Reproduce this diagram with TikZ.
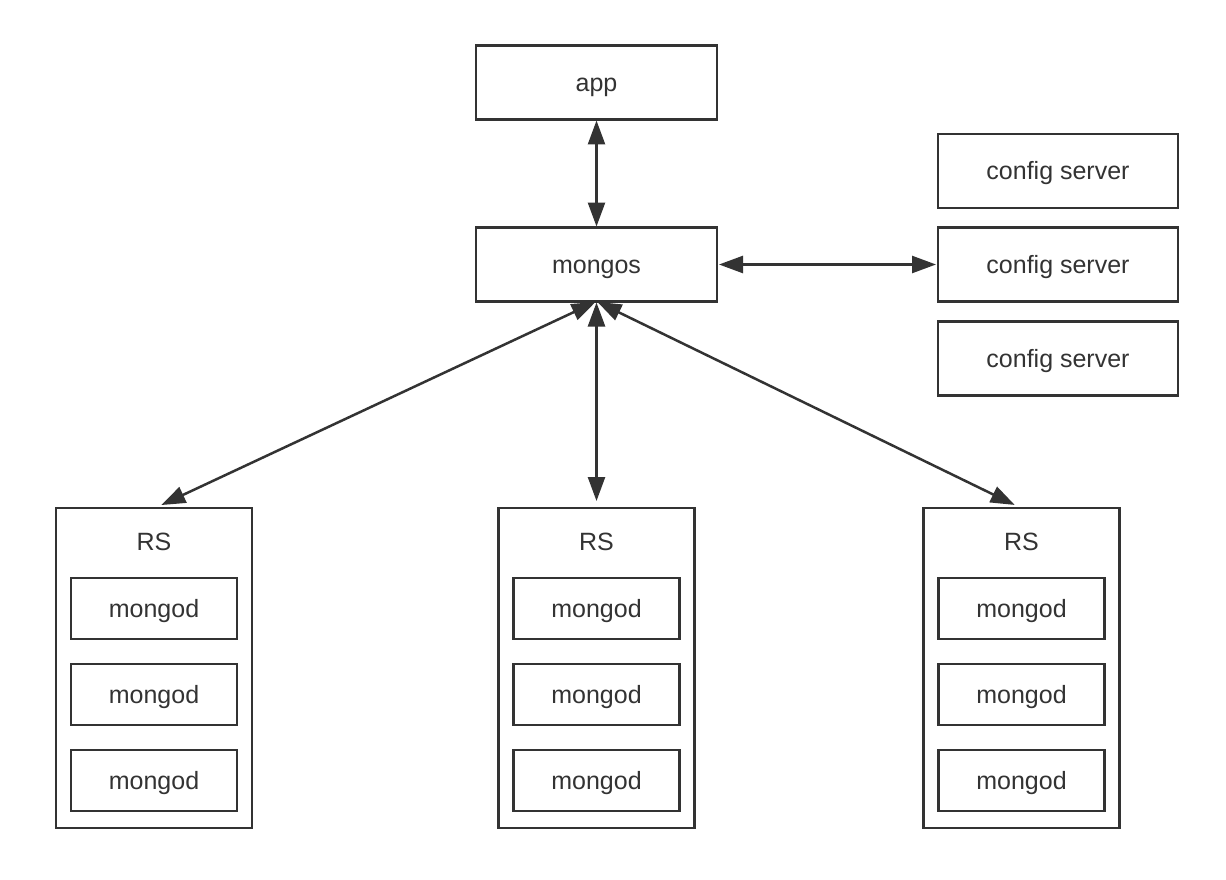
\documentclass[tikz,border=0pt]{standalone}
\usepackage{fontspec}
\setmainfont{Liberation Sans}
\usetikzlibrary{arrows.meta}
\definecolor{ink}{HTML}{333333}
\begin{document}
\begin{tikzpicture}[x=1pt,y=-1pt,
  box/.style={draw=ink, line width=2.5pt, rectangle, inner sep=0pt, outer sep=0pt,
              text=ink, font=\fontsize{25}{30}\selectfont,
              text height=22.6pt, text depth=5.3pt},
  wide/.style={box, minimum width=241pt, minimum height=74pt},
  cfg/.style={box, minimum width=240pt, minimum height=74pt},
  rsbox/.style={box, minimum width=196pt, minimum height=320pt},
  member/.style={box, minimum width=166pt, minimum height=61pt},
  link/.style={draw=ink, line width=2.5pt,
               {Triangle[length=24pt,width=17pt]}-{Triangle[length=24pt,width=17pt]}}
]
\useasboundingbox (0,0) rectangle (1226,880);
\fill[white] (0,0) rectangle (1226,880);

% router tier
\node[wide] (app) at (596.5,82.5) {app};
\node[wide] (mongos) at (596.5,264.5) {mongos};

% config servers
\node[cfg] (cfg1) at (1058,171) {config server};
\node[cfg] (cfg2) at (1058,264.5) {config server};
\node[cfg] (cfg3) at (1058,358.5) {config server};

% replica sets with their members
\foreach \n/\x in {rsA/154, rsB/596.5, rsC/1021.5}{
  \node[rsbox] (\n) at (\x,668) {};
  \node[text=ink, font=\fontsize{25}{30}\selectfont] (\n-label) at (\x,542) {RS};
  \node[member] (\n-m1) at (\x,608.5) {mongod};
  \node[member] (\n-m2) at (\x,694.5) {mongod};
  \node[member] (\n-m3) at (\x,780.5) {mongod};
}

% connectors
\draw[link, shorten <=1pt, shorten >=1pt] (app.south) -- (mongos.north);
\draw[link, shorten <=2pt, shorten >=2pt] (mongos.east) -- (cfg2.west);
\draw[link, shorten <=1pt, shorten >=7pt] (mongos.south) -- (rsB.north);
\draw[link, shorten <=1pt, shorten >=7pt] (mongos.south) -- ([xshift=1pt]rsA.north);
\draw[link, shorten <=1pt, shorten >=7pt] (mongos.south) -- ([xshift=-0.5pt]rsC.north);
\end{tikzpicture}
\end{document}
